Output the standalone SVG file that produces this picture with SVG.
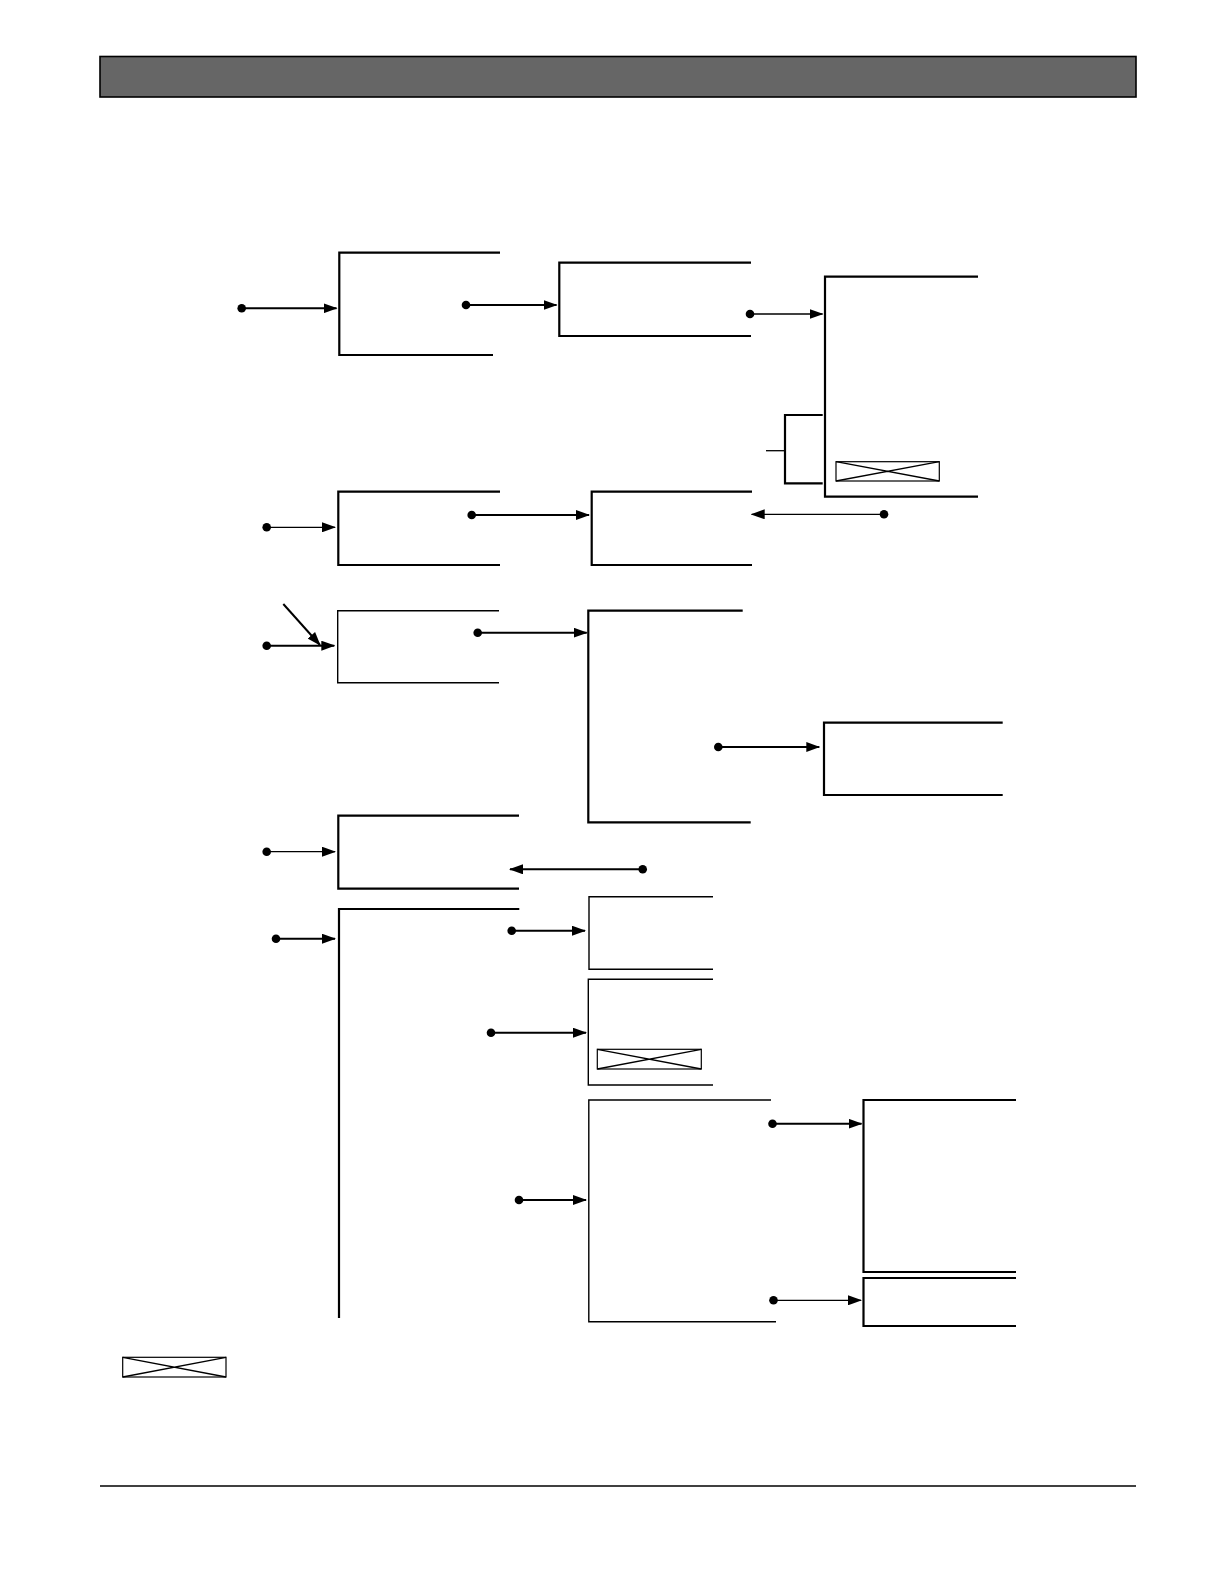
<svg xmlns="http://www.w3.org/2000/svg" width="1224" height="1584" viewBox="0 0 1224 1584">
<style>
.box{fill:none;stroke:#000;stroke-width:2.2}
.thin{fill:none;stroke:#000;stroke-width:1.4}
.c{stroke:#000;stroke-width:2;fill:none}
.ct{stroke:#000;stroke-width:1.3;fill:none}
.xb{fill:#fff;stroke:#000;stroke-width:1.2}
</style>
<defs>
<marker id="ah" markerUnits="userSpaceOnUse" markerWidth="14" markerHeight="10" refX="13" refY="5" orient="auto"><path d="M0,0 L14,5 L0,10 z" fill="#000"/></marker>
<marker id="dot" markerUnits="userSpaceOnUse" markerWidth="10" markerHeight="10" refX="5" refY="5" orient="auto"><circle cx="5" cy="5" r="4.3" fill="#000"/></marker>
</defs>
<rect width="1224" height="1584" fill="#fff"/>
<g id="header"><rect x="100" y="56.5" width="1036" height="40.5" fill="#666" stroke="#000" stroke-width="1.6"/></g>
<g id="nodeA"><path class="box" d="M500,252.7 H339.3 V355 H493"/></g>
<g id="nodeB"><path class="box" d="M751,262.7 H559.3 V336 H751"/></g>
<g id="nodeC"><path class="box" d="M978,276.7 H825 V496.7 H978"/>
<rect class="xb" x="836" y="461.7" width="103.3" height="19.3"/><path class="ct" d="M836,461.7 L939.3,481 M836,481 L939.3,461.7"/></g>
<g id="bracket"><path class="box" d="M822.7,415 H785 V483.3 H822.7"/><path class="ct" d="M766,450.7 H785"/></g>
<g id="nodeD1"><path class="box" d="M500,491.7 H338.3 V565 H500"/></g>
<g id="nodeD2"><path class="box" d="M752,491.7 H591.7 V565 H752"/></g>
<g id="nodeE1"><path class="thin" d="M499,610.7 H337.7 V682.7 H499"/></g>
<g id="nodeE2"><path class="box" d="M742.7,610.7 H588.3 V822.3 H750.7"/></g>
<g id="nodeE3"><path class="box" d="M1002.7,722.7 H824 V795 H1002.7"/></g>
<g id="nodeF1"><path class="box" d="M519,815.7 H338.3 V888.7 H519"/></g>
<g id="nodeG1"><path class="box" d="M519.3,909 H339 V1318"/></g>
<g id="nodeG2"><path class="thin" d="M713,896.7 H589 V969.3 H713"/></g>
<g id="nodeG3"><path class="thin" d="M713,979.3 H588.3 V1085 H713"/>
<rect class="xb" x="597.3" y="1049.3" width="104" height="19.7"/><path class="ct" d="M597.3,1049.3 L701.3,1069 M597.3,1069 L701.3,1049.3"/></g>
<g id="nodeG4"><path class="thin" d="M771,1100 H588.8 V1321.7 H776"/></g>
<g id="nodeH1"><path class="box" d="M1016,1100 H863.5 V1272 H1016"/></g>
<g id="nodeH2"><path class="box" d="M1016,1278 H863.5 V1326 H1016"/></g>
<g id="legend"><rect class="xb" x="122.7" y="1357.3" width="103.3" height="19.7"/><path class="ct" d="M122.7,1357.3 L226,1377 M122.7,1377 L226,1357.3"/></g>
<g id="footer"><path d="M100,1486 H1136" stroke="#000" stroke-width="1.4"/></g>
<g id="connectors">
<path class="c" d="M241.7,308.3 H336.5" marker-start="url(#dot)" marker-end="url(#ah)"/>
<path class="c" d="M466,305 H556.5" marker-start="url(#dot)" marker-end="url(#ah)"/>
<path class="ct" d="M750,314 H822.5" marker-start="url(#dot)" marker-end="url(#ah)"/>
<path class="ct" d="M266.7,527.3 H335" marker-start="url(#dot)" marker-end="url(#ah)"/>
<path class="c" d="M471.7,515 H589" marker-start="url(#dot)" marker-end="url(#ah)"/>
<path class="ct" d="M884,514.3 H751.7" marker-start="url(#dot)" marker-end="url(#ah)"/>
<path class="c" d="M266.7,645.7 H334.3" marker-start="url(#dot)" marker-end="url(#ah)"/>
<path class="c" d="M283.3,604 L320,645" marker-end="url(#ah)"/>
<path class="c" d="M477.7,632.7 H586.7" marker-start="url(#dot)" marker-end="url(#ah)"/>
<path class="c" d="M718.3,747 H819.3" marker-start="url(#dot)" marker-end="url(#ah)"/>
<path class="ct" d="M266.7,851.7 H335" marker-start="url(#dot)" marker-end="url(#ah)"/>
<path class="c" d="M642.7,869.3 H510" marker-start="url(#dot)" marker-end="url(#ah)"/>
<path class="c" d="M276,938.7 H335" marker-start="url(#dot)" marker-end="url(#ah)"/>
<path class="c" d="M511.7,930.7 H585" marker-start="url(#dot)" marker-end="url(#ah)"/>
<path class="c" d="M491,1032.7 H586" marker-start="url(#dot)" marker-end="url(#ah)"/>
<path class="c" d="M519,1200 H586" marker-start="url(#dot)" marker-end="url(#ah)"/>
<path class="c" d="M772.5,1123.7 H861.5" marker-start="url(#dot)" marker-end="url(#ah)"/>
<path class="ct" d="M773.5,1300.3 H861" marker-start="url(#dot)" marker-end="url(#ah)"/>
</g>
</svg>
